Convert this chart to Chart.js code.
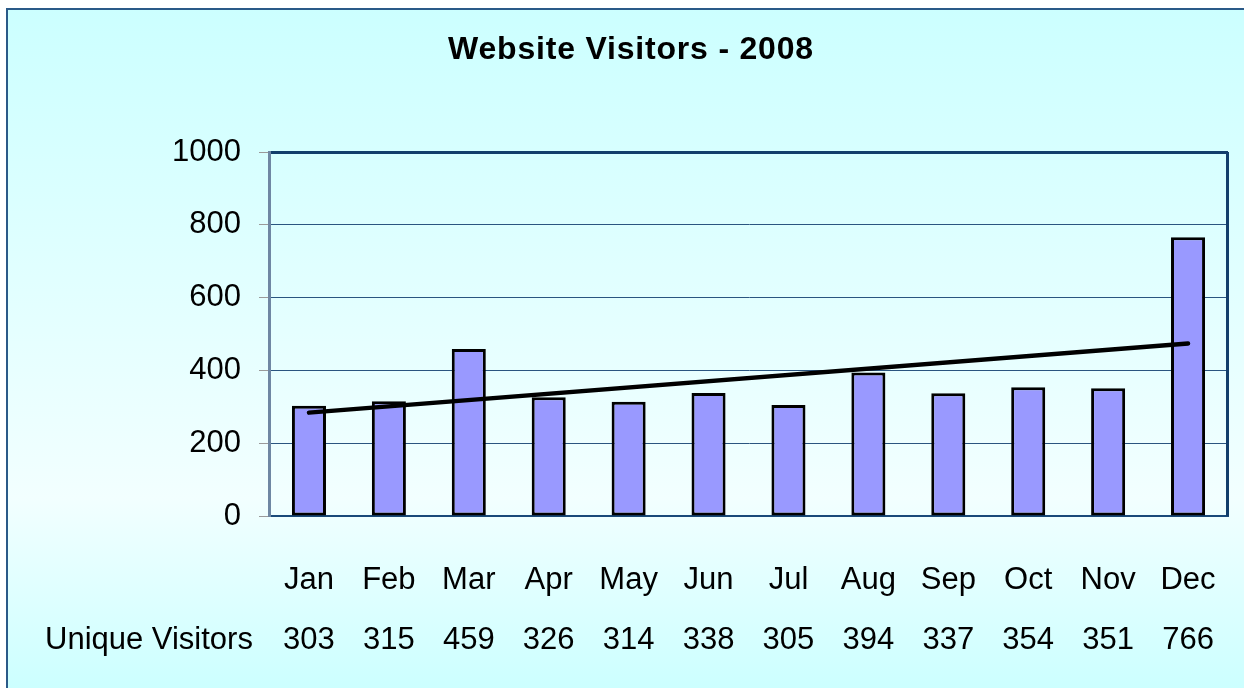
<!DOCTYPE html>
<html><head><meta charset="utf-8">
<script src="https://cdn.jsdelivr.net/npm/chart.js@4.4.1/dist/chart.umd.min.js"></script>
<style>html,body{margin:0;padding:0;background:#fff;overflow:hidden}#wrap{width:1244px;height:688px;position:relative}</style>
</head><body><div id="wrap"><canvas id="c" width="1244" height="688"></canvas></div>
<script>
const chartTitle = 'Website Visitors - 2008';
const seriesName = 'Unique Visitors';
const months = ['Jan','Feb','Mar','Apr','May','Jun','Jul','Aug','Sep','Oct','Nov','Dec'];
const visitors = [303, 315, 459, 326, 314, 338, 305, 394, 337, 354, 351, 766];
const trendEnds = [284, 474]; // linear trend line value at first and last month
const yTicks = [0, 200, 400, 600, 800, 1000];

const FONT = '"Liberation Sans", Arial, Helvetica, sans-serif';
const trendData = months.map((m, i) => i === 0 ? trendEnds[0] : (i === months.length - 1 ? trendEnds[1] : null));

const deco = {
  id: 'deco',
  beforeDraw(chart) {
    const {ctx, width, height} = chart;
    ctx.save();
    ctx.fillStyle = '#ffffff';
    ctx.fillRect(0, 0, width, height);
    const g = ctx.createLinearGradient(0, 9, 0, height);
    g.addColorStop(0, '#CCFFFF');
    g.addColorStop(0.72, '#F2FFFF');
    g.addColorStop(1, '#CCFFFF');
    ctx.fillStyle = g;
    ctx.fillRect(8, 10, width, height);
    ctx.strokeStyle = '#2A5A88';
    ctx.lineWidth = 2;
    ctx.beginPath();
    ctx.moveTo(7, height + 5);
    ctx.lineTo(7, 9);
    ctx.lineTo(width + 5, 9);
    ctx.stroke();
    ctx.fillStyle = '#000';
    ctx.font = 'bold 32px ' + FONT;
    ctx.textAlign = 'center';
    ctx.textBaseline = 'middle';
    try { ctx.letterSpacing = '0.8px'; } catch (e) {}
    ctx.fillText(chartTitle, 631, 50);
    ctx.restore();
  },
  beforeDatasetsDraw(chart) {
    const {ctx, chartArea: a} = chart;
    ctx.save();
    ctx.strokeStyle = '#123E6B';
    ctx.lineWidth = 3;
    ctx.beginPath();
    ctx.moveTo(a.right - 0.5, a.top);
    ctx.lineTo(a.right - 0.5, a.bottom);
    ctx.stroke();
    ctx.restore();
  },
  afterDraw(chart) {
    const {ctx} = chart;
    const xs = chart.scales.x;
    ctx.save();
    ctx.fillStyle = '#000';
    ctx.font = '31px ' + FONT;
    ctx.textAlign = 'left';
    ctx.textBaseline = 'middle';
    ctx.fillText(seriesName, 45, xs.top + 34 + 30 + 60);
    ctx.restore();
  }
};

new Chart(document.getElementById('c'), {
  type: 'bar',
  data: {
    labels: months,
    datasets: [
      {
        type: 'line',
        label: 'Trend',
        data: trendData,
        spanGaps: true,
        borderColor: '#000',
        borderWidth: 4.5,
        borderCapStyle: 'round',
        pointRadius: 0,
        fill: false,
        order: 0
      },
      {
        type: 'bar',
        label: seriesName,
        data: visitors,
        backgroundColor: '#9999FF',
        borderColor: '#000',
        borderWidth: 3,
        borderSkipped: false,
        categoryPercentage: 1,
        barPercentage: 0.426,
        order: 1
      }
    ]
  },
  options: {
    responsive: false,
    animation: false,
    devicePixelRatio: 1,
    layout: {padding: {left: 0, right: 16, top: 152, bottom: 0}},
    plugins: {legend: {display: false}, tooltip: {enabled: false}, title: {display: false}},
    scales: {
      x: {
        grid: {display: true, drawOnChartArea: false, drawTicks: true, tickLength: 34, color: 'rgba(0,0,0,0)', tickColor: 'rgba(0,0,0,0)'},
        border: {display: true, color: '#1A4A7A', width: 2},
        ticks: {
          color: '#000',
          font: {family: FONT, size: 31, lineHeight: 60 / 31},
          padding: 0,
          maxRotation: 0,
          autoSkip: false,
          callback: (v, i) => [months[i], String(visitors[i])]
        },
        afterFit: s => { s.height = 172; }
      },
      y: {
        min: 0,
        max: 1000,
        afterBuildTicks: s => { s.ticks = yTicks.map(v => ({value: v})); },
        grid: {
          color: c => c.tick && c.tick.value === 1000 ? '#123E6B' : '#2A5580',
          lineWidth: c => c.tick && c.tick.value === 1000 ? 3 : 1,
          tickColor: '#9A9A9A',
          tickLength: 10,
          tickWidth: 1
        },
        border: {display: true, color: '#6F87A3', width: 3},
        ticks: {
          color: '#000',
          font: {family: FONT, size: 31},
          padding: 18,
          callback: v => String(v)
        },
        afterFit: s => { s.width = 269; }
      }
    }
  },
  plugins: [deco]
});
</script>
</body></html>
